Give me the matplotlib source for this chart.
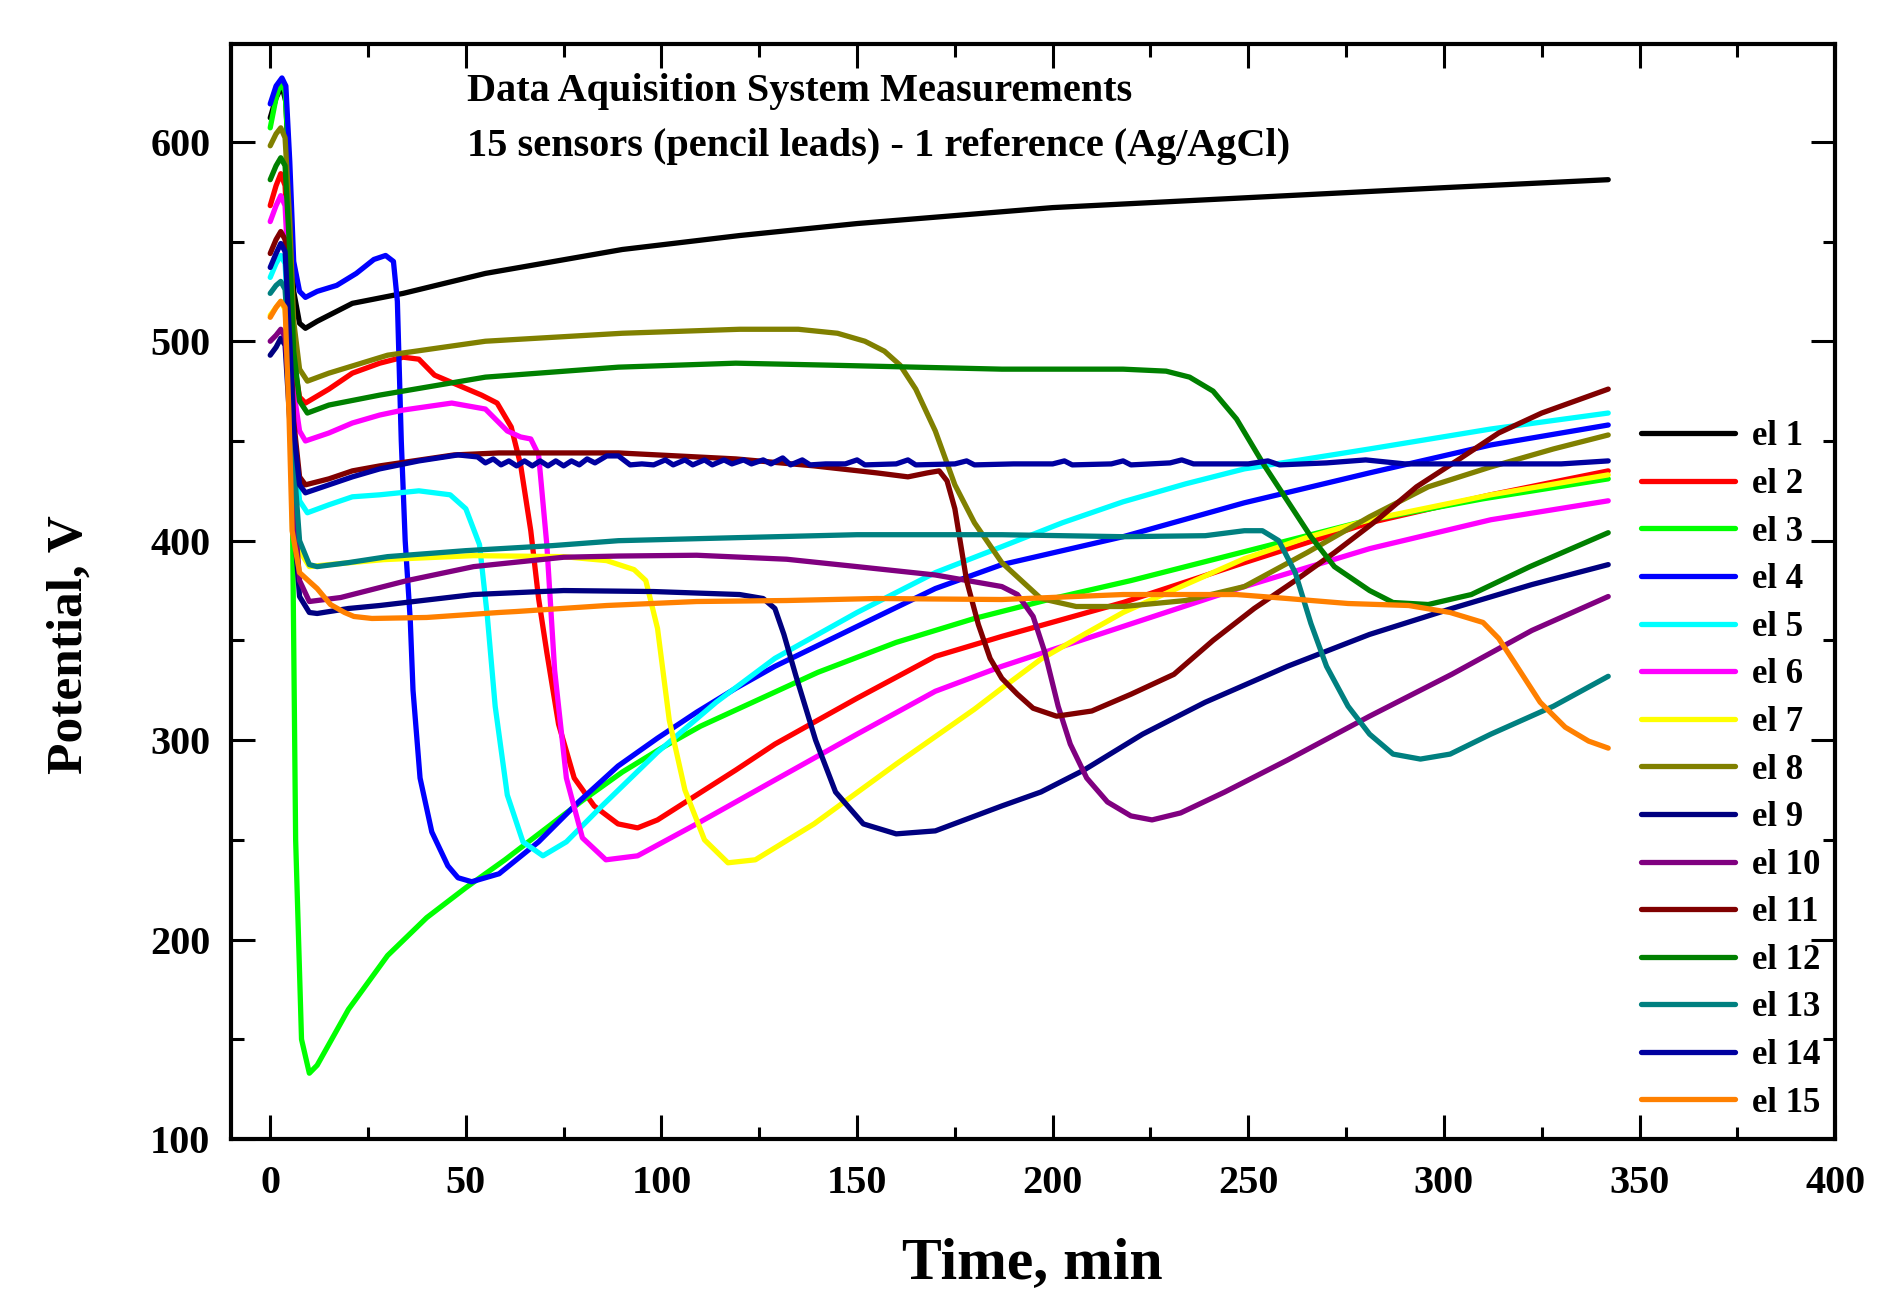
import matplotlib
matplotlib.use("Agg")
import matplotlib.pyplot as plt
from matplotlib.ticker import MultipleLocator

# time (min), potential pairs for each sensor
el1 = [(0, 612), (1.5, 622), (3, 628), (4, 620), (5, 570), (6, 525), (7.5, 509), (9, 506.5),
       (12, 510), (21, 519), (34, 524), (55, 534), (90, 546), (120, 553), (150, 559),
       (200, 567), (250, 572), (300, 577), (342, 581)]
el2 = [(0, 568), (1.5, 578), (2.7, 584), (3.8, 578), (5, 530), (6, 490), (7.5, 472), (9, 469),
       (15, 476), (21, 484), (28, 489), (34, 492), (38, 491), (42, 483), (48, 478), (54, 473),
       (58, 469), (61.6, 457), (64, 438), (66.6, 405), (68.6, 371), (70.7, 344), (73.7, 308),
       (77.7, 281), (82.8, 267), (88.9, 258), (93.9, 256), (99, 260), (109, 272.5), (119, 285),
       (129, 298), (150, 321), (170, 342), (187, 352), (218, 369), (249, 389), (281, 409),
       (312, 423), (342, 435)]
el3 = [(0, 607), (1.5, 622), (2.7, 630), (3.8, 625), (4.8, 590), (5.5, 450), (6.5, 250),
       (8, 150), (10, 133), (12, 137), (20, 165), (30, 192), (40, 211), (50, 226), (60, 240),
       (70, 255), (80, 270), (90, 284), (100, 296), (110, 307), (120, 316), (140, 334),
       (160, 349), (180, 361), (200, 371), (220, 380), (250, 395), (280, 410), (310, 421),
       (342, 431)]
el4 = [(0, 619), (1.5, 628), (3, 632), (4, 628), (5, 590), (6, 540), (7.5, 525), (9, 522),
       (12, 525), (17, 528), (22, 534), (26.5, 541), (29.5, 543), (31.5, 540), (32.5, 520),
       (33.5, 450), (34.5, 400), (35.8, 360), (36.5, 325), (38.3, 281), (41.3, 254),
       (45.4, 237), (48, 231), (51.5, 229), (58.5, 233), (68.6, 249), (78.8, 269), (88.9, 287),
       (99, 301), (109, 314), (119, 326), (129, 337), (150, 357), (170, 376), (187, 388),
       (218, 402), (249, 419), (281, 434), (312, 448), (342, 458)]
el5 = [(0, 532), (1.5, 539), (2.7, 543), (3.8, 539), (5, 495), (6, 450), (7.5, 420), (9.5, 414),
       (15, 418), (21, 422), (28, 423), (38, 425), (46, 423), (50, 416), (53.5, 398),
       (55.5, 362), (57.5, 317), (60.6, 272.5), (64.6, 249), (69.7, 242), (75.7, 249),
       (84.8, 267), (99, 294), (114, 319), (129, 341), (150, 364), (170, 384), (187, 397),
       (202.5, 409), (218, 419.5), (234, 428.5), (249, 436), (281, 446), (312, 456), (342, 464)]
el6 = [(0, 560), (1.5, 568), (2.7, 573), (3.8, 568), (5, 520), (6, 475), (7.5, 455), (9, 450),
       (15, 454), (21, 459), (28, 463), (34, 465.5), (46.4, 469), (55, 466), (60.6, 455),
       (64, 452), (66.6, 451), (68.6, 443), (70.7, 398), (72.7, 335), (75.7, 281), (79.8, 251),
       (85.8, 240), (93.9, 242), (109, 258), (129, 280), (150, 303), (170, 324.5), (187, 337),
       (218, 357), (249, 377), (281, 396), (312, 410.5), (342, 420)]
el7 = [(0, 513), (1.5, 517), (2.7, 520), (3.8, 516), (5, 480), (6, 430), (7.5, 395), (10, 387),
       (15, 388), (29, 390.5), (52, 392.5), (75, 392), (86, 390), (93, 385.5), (96, 380),
       (99, 356), (102, 310), (106, 275), (111, 250), (117, 238.5), (124, 240), (139, 258),
       (160, 288), (180, 315.5), (187, 326), (197, 340.6), (208, 353), (218, 364), (234, 378),
       (249, 391), (265, 401.6), (281, 410.5), (312, 423), (342, 433)]
el8 = [(0, 598), (1.5, 604), (2.7, 607), (3.8, 602), (5, 560), (6, 510), (7.5, 486), (9.5, 480),
       (15, 484), (30, 493), (55, 500), (90, 504), (120, 506), (135, 506), (145, 504),
       (152, 500), (157, 495), (161, 488), (165, 476), (170, 455), (175, 428), (180, 409),
       (187, 389), (192, 380), (197, 371), (206, 367), (218, 367), (234, 370), (249, 377),
       (265, 394), (281, 412), (296, 427), (312, 437), (328, 446), (342, 453)]
el9 = [(0, 493), (1.5, 497), (2.7, 501.5), (3.8, 498), (5, 460), (6, 410), (7.5, 372), (10, 364),
       (12, 363.5), (20, 366), (28, 367.5), (52, 373), (75, 375), (98, 374.5), (120, 373),
       (126, 371), (129, 366), (131.3, 353), (134.4, 332), (139.4, 300), (144.5, 274),
       (151.6, 258), (160, 253), (170, 254.5), (187, 267), (197, 274), (208, 285), (223, 303),
       (239, 319), (260, 337), (281, 353), (302, 366), (322.5, 378), (342, 388)]
el10 = [(0, 500), (1.5, 503), (2.7, 506), (3.8, 502), (5, 470), (6, 420), (7.5, 380),
        (10, 369.5), (18, 371.5), (28, 376.5), (35, 380), (52, 387), (75, 391.7), (89, 392.3),
        (109, 392.7), (132, 390.7), (150, 387), (170, 382.8), (187, 377), (191, 373), (195, 362),
        (198, 344), (201.4, 317), (204.5, 298), (208.7, 281), (214, 269), (220, 262),
        (225.4, 260), (232.7, 263.5), (244, 274), (260, 290), (281, 312), (302, 333),
        (322.5, 355), (342, 372)]
el11 = [(0, 544), (1.5, 551), (2.7, 555), (3.8, 551), (5, 510), (6, 460), (7.5, 432), (9, 428),
        (15, 431), (21, 435), (28, 437.5), (47, 443), (58.5, 444), (72.5, 444), (89, 444),
        (119, 441), (139, 437.5), (155, 434), (163, 432), (168, 434), (171, 435), (173, 430),
        (175, 416), (178, 380), (181, 358), (184, 341), (187, 331), (191, 323), (195, 316),
        (201, 312), (210, 314.6), (220, 323), (231, 333), (241, 350), (251.5, 366), (262, 380),
        (272, 394), (283, 410.5), (293, 427), (304, 441), (314, 454), (325, 464), (342, 476)]
el12 = [(0, 581), (1.5, 588), (2.7, 592), (3.8, 588), (5, 545), (6, 495), (7.5, 470),
        (9.5, 464), (15, 468), (28, 473), (55, 482), (89, 487), (119, 489), (143, 488),
        (187, 486), (218, 486), (229, 485), (235, 482), (241, 475), (247, 461), (254, 438),
        (260, 420), (266, 402), (272, 387), (281, 375), (287, 369), (296, 368), (307, 373),
        (322, 387), (342, 404)]
el13 = [(0, 524), (1.5, 528), (2.7, 530), (3.8, 526), (5, 490), (6, 440), (7.5, 400), (10, 388),
        (12, 387), (20, 389), (30, 392), (50, 395), (72, 397.5), (89, 400), (119, 401.5),
        (150, 403), (187, 403), (218, 402), (239, 402.5), (249, 405), (253.6, 405),
        (257.8, 400), (262, 384), (266, 358.5), (270, 337), (275.5, 317), (281, 303), (287, 293),
        (294, 290.5), (301.6, 293), (312, 303), (328, 317), (342, 332)]
el14 = [(0, 537), (1.5, 544), (2.7, 549), (3.8, 545), (5, 500), (6, 455), (7.5, 428), (9, 424),
        (15, 428), (21, 432), (28, 436), (38, 440), (48, 443), (53, 442), (55, 439), (57, 441),
        (59, 438), (61, 440), (63, 437.5), (65, 440), (67, 437.5), (69, 440), (71, 437.5),
        (73, 440), (75, 437.5), (77, 440), (79, 438), (81, 441), (83, 439), (86, 442.5),
        (89, 442.5), (92, 438), (95, 438.5), (98, 438), (101, 440.5), (103, 438), (106, 440.5),
        (108, 438), (111, 440.5), (113, 438), (116, 440.5), (118, 438.5), (121, 440.5),
        (123, 438.5), (126, 440.5), (128, 438.5), (131, 441.5), (133, 438), (136, 440.5),
        (138, 438), (142, 438.5), (147, 438.5), (150, 440.5), (152, 438), (160, 438.5),
        (163, 440.5), (165, 438), (175, 438.5), (178, 440), (180, 438), (190, 438.5),
        (200, 438.5), (203, 440), (205, 438), (215, 438.5), (218, 440), (220, 438),
        (230, 439), (233, 440.5), (236, 438.5), (250, 438.5), (255, 440), (258, 438),
        (270, 439), (280, 440.5), (290, 438.5), (300, 438.5), (320, 438.5), (330, 438.5),
        (342, 440)]
el15 = [(0, 512), (1.5, 517), (2.7, 520), (3.8, 517), (4.8, 463), (5.6, 405), (7.5, 384),
        (10.3, 379), (12, 376), (15.4, 368), (19, 364), (21.4, 362), (26, 361), (40, 361.5),
        (58.5, 364), (63, 364.5), (86, 367.5), (109, 369.5), (132, 370), (155, 371),
        (187, 370.5), (218, 373), (247, 373), (260, 371), (275.5, 368.5), (291, 367.5),
        (301.6, 364), (310, 359), (314, 351), (318, 339), (324.6, 319), (331, 306.5),
        (337, 299.5), (342, 296)]

series = [el1, el2, el3, el4, el5, el6, el7, el8, el9, el10, el11, el12, el13, el14, el15]
labels = ["el %d" % i for i in range(1, 16)]
colors = ["#000000", "#FF0000", "#00FF00", "#0000FF", "#00FFFF", "#FF00FF", "#FFFF00",
          "#808000", "#000080", "#800080", "#800000", "#008000", "#008080", "#0000A0",
          "#FF8000"]

plt.rcParams["font.family"] = ["Liberation Serif", "DejaVu Serif"]
plt.rcParams["font.weight"] = "bold"

fig = plt.figure(figsize=(18.88, 12.92), dpi=100)
ax = fig.add_axes([0.1224, 0.1184, 0.8496, 0.8475])

for data, label, color in zip(series, labels, colors):
    t = [p[0] for p in data]
    v = [p[1] for p in data]
    ax.plot(t, v, color=color, lw=3.8, label=label, solid_capstyle="round",
            solid_joinstyle="round")

ax.set_xlim(-10, 400)
ax.set_ylim(100, 649)
ax.xaxis.set_major_locator(MultipleLocator(50))
ax.xaxis.set_minor_locator(MultipleLocator(25))
ax.yaxis.set_major_locator(MultipleLocator(100))
ax.yaxis.set_minor_locator(MultipleLocator(50))
ax.tick_params(which="both", direction="in", top=True, right=True, width=2.2)
ax.tick_params(which="major", length=17, labelsize=29, pad=19)
ax.tick_params(which="minor", length=9)
ax.tick_params(axis="y", which="major", pad=15)
for lab in ax.get_xticklabels() + ax.get_yticklabels():
    lab.set_fontweight("bold")
for sp in ax.spines.values():
    sp.set_linewidth(3)

ax.text(0.147, 0.9565, "Data Aquisition System Measurements", transform=ax.transAxes,
        fontsize=29, fontweight="bold", va="center", ha="left")
ax.text(0.147, 0.9065, "15 sensors (pencil leads) - 1 reference (Ag/AgCl)",
        transform=ax.transAxes, fontsize=29, fontweight="bold", va="center", ha="left")

leg = ax.legend(loc="center left", bbox_to_anchor=(0.879, 0.337), frameon=False,
                fontsize=25, handlelength=2.7, handletextpad=0.5, labelspacing=0.42,
                borderpad=0, borderaxespad=0)
for line in leg.get_lines():
    line.set_linewidth(3.8)

fig.text(0.547, 0.022, "Time, min", fontsize=43, fontweight="bold", ha="center", va="center")
fig.text(0.037, 0.501, "Potential, V", fontsize=37, fontweight="bold", ha="center",
         va="center", rotation=90)

fig.savefig("out.png", dpi=100)
